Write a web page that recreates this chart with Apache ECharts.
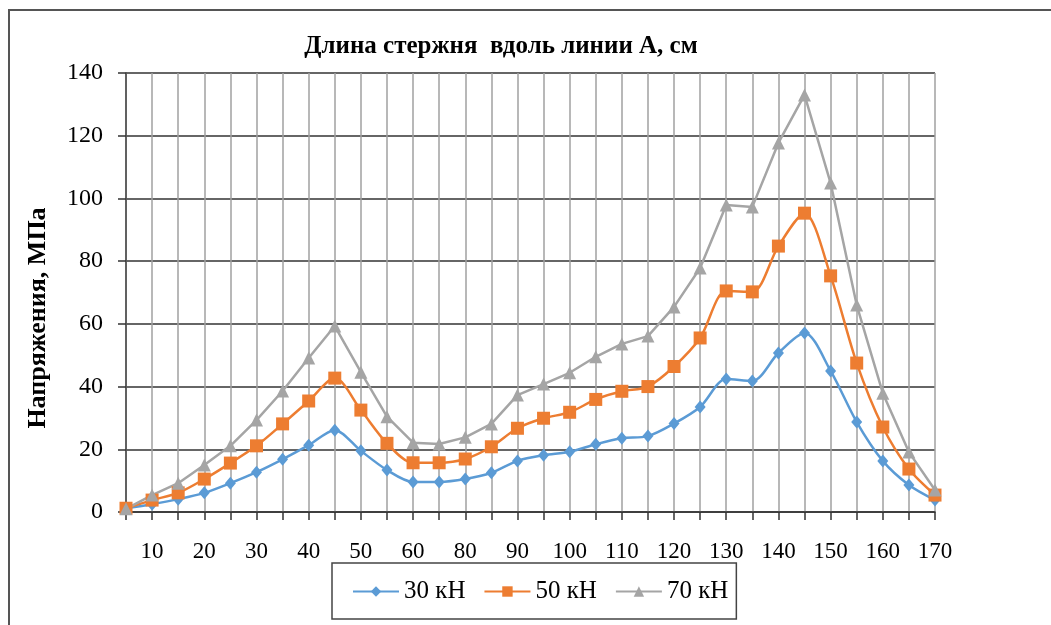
<!DOCTYPE html>
<html>
<head>
<meta charset="utf-8">
<script src="https://cdn.jsdelivr.net/npm/echarts@6/dist/echarts.min.js"></script>
<style>
  html, body { margin: 0; padding: 0; background: #fff; }
  #chart { width: 1051px; height: 625px; }
</style>
</head>
<body>
<div id="chart"></div>
<script>
// длина стержня, см (подписи по оси X)
var positions = ['5', '10', '15', '20', '25', '30', '35', '40', '45', '50', '55', '60', '70',
    '80', '85', '90', '95', '100', '105', '110', '115', '120', '125', '130', '135', '140',
    '145', '150', '155', '160', '165', '170'];

// напряжения, МПа
var load30 = [1.2, 2.5, 4.1, 6.1, 9.2, 12.7, 16.8, 21.3, 26.1, 19.5, 13.4, 9.6, 9.6, 10.5, 12.5, 16.3,
    18.1, 19.2, 21.6, 23.5, 24.2, 28.2, 33.5, 42.4, 41.8, 50.7, 57.1, 45, 28.7, 16.3, 8.6, 3.8];
var load50 = [1.2, 3.8, 6.1, 10.5, 15.6, 21.1, 28.1, 35.4, 42.7, 32.5, 21.9, 15.7, 15.7, 16.9, 20.8, 26.7,
    29.9, 31.8, 35.9, 38.5, 40, 46.4, 55.5, 70.5, 70.2, 84.8, 95.3, 75.3, 47.5, 27.1, 13.7, 5.4];
var load70 = [1, 5.4, 9.2, 15, 21.1, 29.3, 38.6, 49.1, 59.3, 44.6, 30.4, 22.1, 21.7, 23.8, 28.1, 37.3,
    40.8, 44.4, 49.5, 53.6, 56.1, 65.4, 77.8, 97.9, 97.3, 117.7, 133, 104.9, 66, 37.9, 19.1, 7];

var seriesNames = ['30 кН', '50 кН', '70 кН'];

var serif = '"Liberation Serif", "DejaVu Serif", serif';

var myChart = echarts.init(document.getElementById('chart'));

var option = {
    animation: false,
    title: {
        text: 'Длина стержня  вдоль линии А, см',
        left: 496,
        textAlign: 'center',
        top: 29,
        textStyle: {
            fontFamily: serif,
            fontSize: 25,
            fontWeight: 'bold',
            color: '#000'
        }
    },
    graphic: [{
        type: 'polyline',
        shape: { points: [[9, 625], [9, 10], [1051, 10]] },
        style: { stroke: '#555', lineWidth: 2, fill: null }
    }, {
        type: 'text',
        x: 38,
        y: 318,
        rotation: Math.PI / 2,
        style: {
            text: 'Напряжения, МПа',
            fontFamily: serif,
            fontSize: 26,
            fontWeight: 'bold',
            fill: '#000',
            align: 'center',
            verticalAlign: 'middle'
        }
    }],
    legend: {
        data: seriesNames,
        left: 332,
        top: 563,
        padding: [16, 8, 15, 20],
        itemGap: 18,
        itemWidth: 46,
        itemHeight: 13,
        borderColor: '#444',
        borderWidth: 1.5,
        textStyle: {
            fontFamily: serif,
            fontSize: 25,
            color: '#000'
        }
    },
    grid: {
        left: 126,
        right: 116,
        top: 73,
        bottom: 113
    },
    xAxis: {
        type: 'category',
        data: positions,
        boundaryGap: false,
        axisLine: { lineStyle: { color: '#333', width: 1.5 } },
        axisTick: { show: true, interval: 0, length: 8, lineStyle: { color: '#333', width: 1.5 } },
        axisLabel: {
            interval: function (i) { return i % 2 === 1; },
            margin: 28,
            fontFamily: serif,
            fontSize: 23,
            color: '#000'
        },
        splitLine: { show: true, interval: 0, lineStyle: { color: '#a0a0a0', width: 1.5 } }
    },
    yAxis: {
        type: 'value',
        min: 0,
        max: 140,
        interval: 20,
        axisLine: { show: true, lineStyle: { color: '#444', width: 1.5 } },
        axisTick: { show: true, length: 8, lineStyle: { color: '#333', width: 1.5 } },
        axisLabel: {
            margin: 23,
            fontFamily: serif,
            fontSize: 24,
            color: '#000'
        },
        splitLine: { show: true, lineStyle: { color: '#333', width: 1.5 } }
    },
    series: [{
        name: seriesNames[0],
        type: 'line',
        data: load30,
        smooth: 0.3,
        symbol: 'diamond',
        symbolSize: [11, 13],
        itemStyle: { color: '#5b9bd5' },
        lineStyle: { width: 2.5, color: '#5b9bd5' }
    }, {
        name: seriesNames[1],
        type: 'line',
        data: load50,
        smooth: 0.3,
        symbol: 'rect',
        symbolSize: 13,
        itemStyle: { color: '#ed7d31' },
        lineStyle: { width: 2.5, color: '#ed7d31' }
    }, {
        name: seriesNames[2],
        type: 'line',
        data: load70,
        symbol: 'triangle',
        symbolSize: 13,
        itemStyle: { color: '#a5a5a5' },
        lineStyle: { width: 2.5, color: '#a5a5a5' }
    }]
};

myChart.setOption(option);
</script>
</body>
</html>
